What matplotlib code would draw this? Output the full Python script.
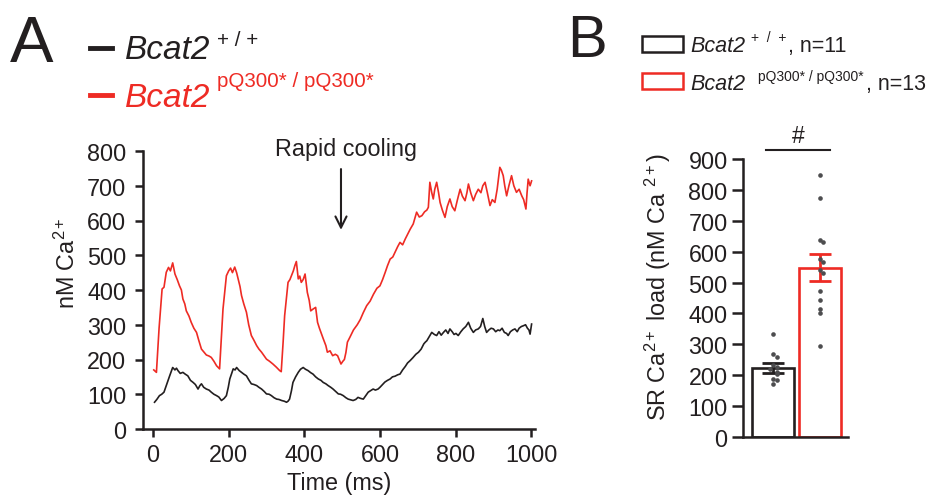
import matplotlib
matplotlib.use("Agg")
import matplotlib.pyplot as plt
from matplotlib.patches import Rectangle

plt.rcParams['font.family'] = ['Liberation Sans', 'DejaVu Sans']
plt.rcParams['mathtext.fontset'] = 'custom'
plt.rcParams['mathtext.rm'] = 'Liberation Sans'
plt.rcParams['mathtext.it'] = 'Liberation Sans:italic'
plt.rcParams['mathtext.bf'] = 'Liberation Sans:bold'

BLACK = '#231f20'
RED = '#ee2b24'
DOT = '#4d4d4f'
FS = 16.8

# panel A: cytosolic Ca2+ traces (time in ms, nM)
wt_t = [4, 10, 17, 23, 29, 35, 40, 44, 48, 52, 58, 62, 66, 72, 79, 85, 92, 99, 106, 112,
        119, 124, 128, 134, 141, 148, 154, 161, 168, 174, 181, 188, 194, 199, 203, 208, 212, 217, 221, 228,
        234, 240, 247, 254, 260, 267, 274, 280, 287, 294, 300, 307, 313, 320, 327, 333, 340, 347, 353, 357,
        361, 366, 370, 377, 384, 390, 397, 403, 410, 417, 423, 430, 437, 444, 450, 457, 463, 470, 476, 483,
        490, 496, 503, 510, 516, 523, 529, 536, 542, 549, 556, 562, 569, 575, 582, 588, 595, 600, 607, 613,
        620, 627, 633, 640, 647, 653, 660, 667, 673, 680, 687, 695, 702, 709, 716, 720, 724, 730, 737, 744,
        750, 756, 762, 768, 774, 780, 785, 791, 796, 801, 807, 814, 820, 827, 834, 840, 847, 853, 860, 866,
        872, 877, 882, 888, 894, 900, 906, 912, 917, 923, 929, 935, 939, 945, 951, 957, 963, 968, 974, 979,
        985, 990, 994, 997, 1001]
wt_ca = [77, 85, 96, 100, 106, 125, 140, 153, 165, 177, 170, 175, 168, 160, 163, 158, 153, 140, 134, 128,
         115, 125, 130, 120, 115, 112, 106, 100, 96, 92, 82, 88, 96, 120, 144, 160, 173, 170, 177, 168,
         163, 158, 153, 140, 130, 128, 125, 120, 115, 108, 101, 100, 96, 90, 86, 85, 82, 80, 77, 80,
         86, 110, 134, 150, 163, 172, 177, 172, 168, 162, 158, 150, 144, 140, 134, 130, 125, 120, 115, 108,
         101, 100, 96, 90, 86, 84, 82, 85, 91, 88, 86, 95, 106, 110, 115, 112, 115, 120, 128, 135,
         140, 144, 150, 152, 156, 158, 170, 180, 190, 197, 205, 215, 221, 230, 245, 250, 254, 265, 278, 272,
         269, 280, 270, 278, 285, 275, 288, 280, 272, 275, 269, 280, 288, 295, 307, 290, 278, 285, 288, 295,
         318, 295, 278, 285, 290, 288, 280, 285, 283, 290, 278, 275, 269, 280, 285, 288, 280, 290, 295, 297,
         300, 290, 285, 273, 302]

mut_t = [2, 9, 16, 24, 29, 35, 41, 46, 52, 58, 64, 70, 75, 79, 84, 88, 95, 101, 108, 115,
         121, 128, 134, 141, 148, 154, 161, 168, 176, 180, 185, 190, 194, 200, 205, 210, 216, 221, 225, 230,
         234, 240, 247, 253, 260, 267, 274, 280, 287, 294, 300, 308, 317, 326, 335, 339, 344, 348, 353, 357,
         362, 366, 371, 375, 379, 384, 388, 392, 397, 402, 408, 413, 417, 423, 430, 435, 440, 444, 450, 457,
         461, 468, 475, 482, 488, 492, 497, 502, 506, 510, 514, 521, 530, 540, 548, 556, 565, 574, 583, 592,
         600, 607, 614, 620, 627, 634, 640, 647, 653, 660, 667, 673, 680, 688, 697, 704, 711, 718, 724, 728,
         732, 737, 741, 745, 750, 755, 759, 765, 772, 778, 785, 791, 798, 805, 812, 818, 825, 830, 834, 840,
         847, 853, 860, 867, 872, 878, 884, 891, 897, 904, 910, 917, 921, 926, 930, 935, 941, 948, 954, 961,
         968, 975, 980, 986, 989, 992, 997, 1001]
mut_ca = [170, 163, 290, 403, 408, 451, 465, 455, 478, 446, 430, 412, 400, 374, 360, 340, 325, 307, 290, 278,
          255, 230, 222, 213, 210, 206, 195, 182, 173, 250, 345, 400, 441, 455, 463, 450, 466, 450, 432, 410,
          384, 360, 336, 300, 269, 255, 240, 230, 221, 210, 201, 195, 187, 178, 168, 165, 250, 326, 380, 422,
          430, 441, 455, 470, 482, 432, 440, 422, 430, 446, 393, 370, 340, 345, 350, 307, 290, 278, 260, 240,
          221, 225, 211, 215, 211, 200, 187, 195, 200, 220, 250, 265, 285, 300, 315, 335, 355, 368, 388, 405,
          412, 430, 451, 470, 489, 495, 509, 525, 537, 530, 547, 560, 575, 590, 624, 610, 614, 625, 630, 638,
          710, 680, 662, 690, 710, 680, 652, 630, 609, 640, 662, 640, 628, 660, 690, 670, 657, 680, 705, 680,
          657, 675, 690, 680, 700, 710, 680, 643, 660, 652, 690, 753, 745, 729, 700, 671, 700, 729, 700, 681,
          690, 671, 660, 633, 680, 719, 700, 714]

# panel B: SR Ca2+ load (nM)
load_mean = [223, 548]
load_sem = [16, 43]
wt_load = [333, 269, 258, 233, 226, 220, 210, 204, 188, 185, 171]
mut_load = [847, 774, 639, 631, 577, 566, 541, 530, 474, 444, 415, 401, 293]
bar_colors = [BLACK, RED]


def spread(vals, center, thresh=14, step=0.07):
    xs = []
    for i, v in enumerate(vals):
        k = len([j for j in range(i) if abs(vals[j] - v) < thresh])
        off = 0 if k == 0 else step * ((k + 1) // 2) * (1 if k % 2 else -1)
        xs.append(center + off)
    return xs


def style_axis(ax, ticklen):
    for s in ['top', 'right']:
        ax.spines[s].set_visible(False)
    for s in ['left', 'bottom']:
        ax.spines[s].set_linewidth(1.8)
        ax.spines[s].set_color(BLACK)
    ax.tick_params(direction='out', length=ticklen, width=1.8, color=BLACK,
                   labelsize=FS, labelcolor=BLACK)


W, H = 936, 502
fig = plt.figure(figsize=(W / 100, H / 100), dpi=100)

# ---- panel A
ax_a = fig.add_axes([143 / W, 72 / H, 392 / W, 278 / H])
ax_a.plot(wt_t, wt_ca, color=BLACK, lw=1.2)
ax_a.plot(mut_t, mut_ca, color=RED, lw=1.2)
ax_a.set_xlim(-26.5, 1010)
ax_a.set_ylim(0, 800)
ax_a.set_xticks(range(0, 1001, 200))
ax_a.set_yticks(range(0, 801, 100))
style_axis(ax_a, 6)
ax_a.tick_params(axis='y', pad=6)
ax_a.tick_params(axis='x', pad=4)
ax_a.set_xlabel('Time (ms)', fontsize=FS, color=BLACK, labelpad=4)
ax_a.set_ylabel(r'nM Ca$^{2+}$', fontsize=FS, color=BLACK)
ax_a.yaxis.set_label_coords(-0.16, 0.6)

ax_a.annotate('', xy=(497, 565), xytext=(497, 756),
              arrowprops=dict(arrowstyle='->', color=BLACK, lw=1.5, mutation_scale=20),
              annotation_clip=False)
ax_a.text(510, 806, 'Rapid cooling', ha='center', va='center', fontsize=FS,
          color=BLACK, clip_on=False)

# legend A
fig.add_artist(plt.Line2D([90 / W, 112 / W], [1 - 49 / H] * 2, color=BLACK, lw=3.5))
fig.add_artist(plt.Line2D([90 / W, 112 / W], [1 - 96 / H] * 2, color=RED, lw=3.5))
fig.text(125 / W, 1 - 59 / H, 'Bcat2', style='italic', fontsize=24, color=BLACK, va='baseline')
fig.text(217 / W, 1 - 46 / H, '+ / +', fontsize=14.8, color=BLACK, va='baseline')
fig.text(125 / W, 1 - 107 / H, 'Bcat2', style='italic', fontsize=24, color=RED, va='baseline')
fig.text(217 / W, 1 - 87 / H, 'pQ300* / pQ300*', fontsize=14.8, color=RED, va='baseline')

# ---- panel B
ax_b = fig.add_axes([743 / W, 64 / H, 105 / W, 278 / H])
for i in range(2):
    ax_b.bar(i, load_mean[i], width=0.9, facecolor='white', edgecolor=bar_colors[i],
             linewidth=1.9, zorder=2)
    ax_b.errorbar(i, load_mean[i], yerr=load_sem[i], color=bar_colors[i], capsize=8,
                  capthick=2, elinewidth=2, zorder=3)
ax_b.scatter(spread(wt_load, 0), wt_load, s=11, color=DOT, zorder=4, linewidths=0)
ax_b.scatter(spread(mut_load, 1), mut_load, s=11, color=DOT, zorder=4, linewidths=0)
ax_b.set_xlim(-0.648, 1.6)
ax_b.set_ylim(0, 900)
ax_b.set_yticks(range(0, 901, 100))
ax_b.set_xticks([])
style_axis(ax_b, 8)
ax_b.tick_params(axis='y', pad=3)
ax_b.set_ylabel(r'SR Ca$^{2+}$ load (nM Ca $^{2+}$)', fontsize=FS, color=BLACK)
ax_b.yaxis.set_label_coords(-0.667, 0.543)

ax_b.plot([-0.16, 1.22], [930, 930], color=BLACK, lw=1.5, clip_on=False)
ax_b.text(0.54, 975, '#', ha='center', va='center', fontsize=16.5, color=BLACK, clip_on=False)

# legend B
fig.add_artist(Rectangle((642 / W, 1 - 53 / H), 41 / W, 16 / H, transform=fig.transFigure,
                         facecolor='white', edgecolor=BLACK, lw=1.8))
fig.add_artist(Rectangle((642 / W, 1 - 90 / H), 41 / W, 16 / H, transform=fig.transFigure,
                         facecolor='white', edgecolor=RED, lw=1.8))
fig.text(690 / W, 1 - 52 / H, 'Bcat2', style='italic', fontsize=15.5, color=BLACK, va='baseline')
fig.text(751 / W, 1 - 42 / H, '+  /  +', fontsize=10, color=BLACK, va='baseline')
fig.text(788 / W, 1 - 52 / H, ', n=11', fontsize=15.5, color=BLACK, va='baseline')
fig.text(690 / W, 1 - 90 / H, 'Bcat2', style='italic', fontsize=15.5, color=BLACK, va='baseline')
fig.text(758 / W, 1 - 81 / H, 'pQ300* / pQ300*', fontsize=10, color=BLACK, va='baseline')
fig.text(866 / W, 1 - 90 / H, ', n=13', fontsize=15.5, color=BLACK, va='baseline')

# panel letters
fig.text(10 / W, 1 - 62 / H, 'A', fontsize=47, color=BLACK, va='baseline')
fig.text(567 / W, 1 - 57 / H, 'B', fontsize=43, color=BLACK, va='baseline')

fig.savefig('out.png', dpi=100)
